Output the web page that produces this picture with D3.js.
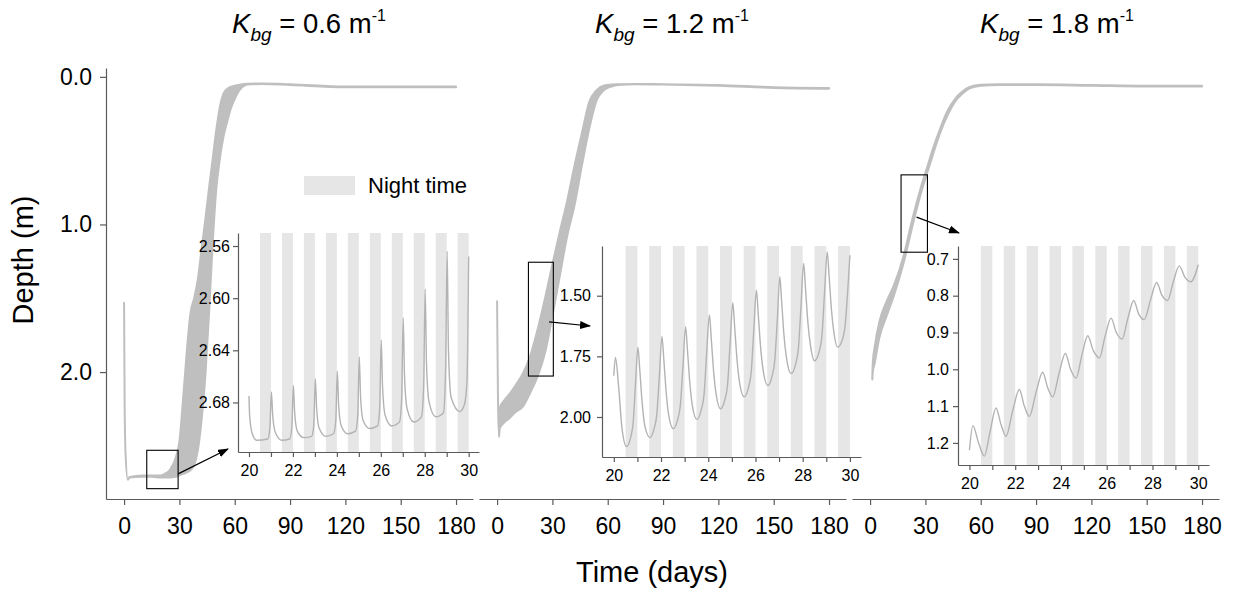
<!DOCTYPE html>
<html>
<head>
<meta charset="utf-8">
<script src="https://cdn.jsdelivr.net/npm/d3@7"></script>
<style>
body { margin: 0; background: #fff; }
text { font-family: "Liberation Sans", Arial, Helvetica, sans-serif; fill: #000; }
</style>
</head>
<body>
<svg id="chart" width="1233" height="598"></svg>
<script>
// ---------- values ----------
var kbgLabels = ["0.6", "1.2", "1.8"];
var timeTicks = [0, 30, 60, 90, 120, 150, 180];
var depthTicks = [0, 1, 2];

// main panels: shallowest / deepest depth reached around each day (band)
var mainDays1    = [0, 0.3, 0.8, 2, 3, 10, 15, 20, 22, 25, 28, 30, 32, 34, 36, 38, 40, 42, 44, 46, 48, 50, 52, 54, 56, 58, 60, 62, 64, 67, 75, 90, 120, 150, 180];
var mainShallow1 = [1.53, 2.2, 2.55, 2.73, 2.71, 2.70, 2.70, 2.70, 2.69, 2.66, 2.58, 2.47, 2.18, 1.86, 1.60, 1.50, 1.37, 1.17, 0.97, 0.76, 0.56, 0.36, 0.20, 0.11, 0.08, 0.067, 0.06, 0.055, 0.05, 0.047, 0.045, 0.05, 0.065, 0.065, 0.065];
var mainDeep1    = [1.53, 2.2, 2.55, 2.73, 2.715, 2.71, 2.71, 2.715, 2.715, 2.715, 2.71, 2.70, 2.69, 2.68, 2.665, 2.63, 2.53, 2.33, 2.04, 1.62, 1.14, 0.76, 0.55, 0.40, 0.30, 0.21, 0.15, 0.10, 0.07, 0.052, 0.048, 0.055, 0.07, 0.07, 0.07];

var mainDays2    = [0, 0.5, 1, 1.5, 4, 7, 10, 14, 18, 22, 26, 30, 34, 38, 42, 46, 50, 54, 58, 62, 66, 75, 90, 120, 150, 180];
var mainShallow2 = [1.52, 2.2, 2.44, 2.24, 2.19, 2.145, 2.09, 2.01, 1.89, 1.71, 1.50, 1.27, 1.05, 0.84, 0.60, 0.38, 0.17, 0.09, 0.058, 0.052, 0.05, 0.048, 0.05, 0.055, 0.07, 0.075];
var mainDeep2    = [1.52, 2.2, 2.44, 2.38, 2.34, 2.31, 2.27, 2.235, 2.14, 2.03, 1.87, 1.62, 1.35, 1.08, 0.87, 0.60, 0.35, 0.16, 0.09, 0.065, 0.055, 0.05, 0.052, 0.06, 0.075, 0.08];

var mainDays3    = [1.2, 1.5, 2.5, 5, 9, 13, 18, 23, 28, 31, 34, 38, 42, 46, 50, 54, 60, 70, 90, 120, 150, 180];
var mainShallow3 = [2.03, 1.93, 1.83, 1.66, 1.52, 1.41, 1.22, 0.96, 0.73, 0.61, 0.49, 0.35, 0.23, 0.15, 0.10, 0.068, 0.054, 0.05, 0.05, 0.055, 0.06, 0.06];
var mainDeep3    = [2.05, 2.0, 1.94, 1.77, 1.62, 1.48, 1.27, 1.01, 0.77, 0.65, 0.53, 0.38, 0.26, 0.17, 0.115, 0.078, 0.06, 0.055, 0.055, 0.06, 0.065, 0.065];

// zoom boxes drawn on the main panels [day from, day to], [depth from, depth to]
var boxDays   = [[12.3, 29.3], [17, 30.5], [16.8, 31.1]];
var boxDepths = [[2.53, 2.79], [1.256, 2.027], [0.664, 1.188]];
var arrowFrom = [[29.3, 2.69], [28.2, 1.66], [25.2, 0.95]];

// insets (day 20 - 30)
var nightStarts = [20.5, 21.5, 22.5, 23.5, 24.5, 25.5, 26.5, 27.5, 28.5, 29.5];
var insetDayTicks = [20, 21, 22, 23, 24, 25, 26, 27, 28, 29, 30];
var insetDepthTicks1 = [2.56, 2.60, 2.64, 2.68];
var insetDepthTicks2 = [1.50, 1.75, 2.00];
var insetDepthTicks3 = [0.7, 0.8, 0.9, 1.0, 1.1, 1.2];

var inset1 = [
  [20.0, 2.675], [20.03, 2.690], [20.15, 2.704], [20.35, 2.709], [20.85, 2.708], [20.95, 2.700],
  [21.02, 2.672], [21.08, 2.690], [21.2, 2.703], [21.5, 2.709], [21.85, 2.708], [21.95, 2.699],
  [22.02, 2.667], [22.08, 2.688], [22.2, 2.702], [22.5, 2.707], [22.85, 2.706], [22.95, 2.697],
  [23.02, 2.662], [23.08, 2.685], [23.2, 2.700], [23.5, 2.706], [23.85, 2.704], [23.95, 2.694],
  [24.02, 2.656], [24.08, 2.682], [24.2, 2.698], [24.5, 2.704], [24.85, 2.702], [24.95, 2.690],
  [25.02, 2.645], [25.08, 2.676], [25.2, 2.694], [25.5, 2.700], [25.85, 2.698], [25.95, 2.684],
  [26.02, 2.632], [26.08, 2.668], [26.2, 2.690], [26.5, 2.698], [26.85, 2.695], [26.95, 2.677],
  [27.02, 2.615], [27.08, 2.660], [27.2, 2.685], [27.5, 2.695], [27.85, 2.691], [27.95, 2.668],
  [28.02, 2.593], [28.08, 2.650], [28.2, 2.680], [28.5, 2.691], [28.85, 2.688], [28.95, 2.655],
  [29.02, 2.564], [29.08, 2.640], [29.2, 2.676], [29.6, 2.687], [29.8, 2.682], [29.92, 2.665], [30.0, 2.568]
];
var inset2 = [
  [20.0, 1.83], [20.07, 1.755], [20.2, 1.87], [20.35, 2.05], [20.54, 2.122], [20.71, 2.085], [20.82, 2.023], [20.92, 1.86],
  [21.02, 1.712], [21.1, 1.805], [21.2, 1.94], [21.31, 2.035], [21.53, 2.085], [21.7, 2.05], [21.82, 1.99], [21.93, 1.83],
  [22.04, 1.668], [22.12, 1.765], [22.22, 1.9], [22.33, 1.995], [22.52, 2.048], [22.7, 2.012], [22.82, 1.95], [22.93, 1.79],
  [23.04, 1.627], [23.12, 1.725], [23.22, 1.86], [23.33, 1.955], [23.52, 2.01], [23.7, 1.972], [23.82, 1.91], [23.93, 1.74],
  [24.05, 1.579], [24.13, 1.68], [24.23, 1.815], [24.34, 1.91], [24.52, 1.966], [24.7, 1.93], [24.82, 1.865], [24.93, 1.69],
  [25.04, 1.529], [25.12, 1.63], [25.22, 1.765], [25.33, 1.86], [25.52, 1.917], [25.7, 1.88], [25.82, 1.815], [25.93, 1.64],
  [26.04, 1.477], [26.12, 1.58], [26.22, 1.715], [26.33, 1.81], [26.52, 1.87], [26.7, 1.832], [26.82, 1.765], [26.93, 1.59],
  [27.03, 1.422], [27.11, 1.525], [27.21, 1.665], [27.32, 1.76], [27.51, 1.821], [27.7, 1.782], [27.82, 1.715], [27.93, 1.54],
  [28.04, 1.367], [28.12, 1.47], [28.22, 1.61], [28.33, 1.705], [28.5, 1.768], [28.7, 1.73], [28.82, 1.66], [28.93, 1.48],
  [29.04, 1.32], [29.12, 1.42], [29.22, 1.56], [29.32, 1.65], [29.48, 1.712], [29.65, 1.69], [29.8, 1.62], [29.92, 1.46], [30.0, 1.333]
];
var inset3 = [
  [20.0, 1.22], [20.15, 1.153], [20.4, 1.2], [20.65, 1.236], [20.9, 1.17],
  [21.16, 1.105], [21.38, 1.15], [21.6, 1.182], [21.9, 1.11],
  [22.18, 1.055], [22.4, 1.1], [22.62, 1.128], [22.92, 1.06],
  [23.2, 1.008], [23.42, 1.05], [23.64, 1.075], [23.92, 1.01],
  [24.19, 0.957], [24.42, 1.0], [24.66, 1.024], [24.92, 0.96],
  [25.17, 0.909], [25.42, 0.95], [25.68, 0.969], [25.93, 0.91],
  [26.19, 0.861], [26.42, 0.9], [26.67, 0.918], [26.93, 0.86],
  [27.18, 0.813], [27.4, 0.85], [27.64, 0.865], [27.92, 0.81],
  [28.18, 0.764], [28.42, 0.8], [28.66, 0.813], [28.92, 0.76],
  [29.17, 0.719], [29.42, 0.75], [29.68, 0.762], [30.0, 0.716]
];

// ---------- layout ----------
var svg = d3.select("#chart");
var axisColor = "#5a5a5a";
var bandColor = "#bfbfbf";
var nightColor = "#e6e6e6";

svg.append("defs").append("marker")
  .attr("id", "arrow")
  .attr("markerUnits", "userSpaceOnUse")
  .attr("markerWidth", 11).attr("markerHeight", 8)
  .attr("refX", 10).attr("refY", 4)
  .attr("orient", "auto")
  .append("path").attr("d", "M0,0 L11,4 L0,8 Z").attr("fill", "#000");

var y = d3.scaleLinear().domain([-0.06, 2.86]).range([68, 499]);

var panels = [
  { left: 106, days: mainDays1, shallow: mainShallow1, deep: mainDeep1, titleX: 309,
    inset: { left: 238, right: 479, top: 233, bottom: 452, yDom: [2.55, 2.718], ticks: insetDepthTicks1, fmt: ".2f", pad: 3, data: inset1, arrowTo: [-10, 3, "bottom"] } },
  { left: 479, days: mainDays2, shallow: mainShallow2, deep: mainDeep2, titleX: 672,
    inset: { left: 602, right: 861, top: 246, bottom: 457, yDom: [1.295, 2.165], ticks: insetDepthTicks2, fmt: ".2f", pad: 6, data: inset2, arrowTo: [-12, 80, "top"] } },
  { left: 852, days: mainDays3, shallow: mainShallow3, deep: mainDeep3, titleX: 1057,
    inset: { left: 958, right: 1209, top: 246, bottom: 465, yDom: [0.665, 1.26], ticks: insetDepthTicks3, fmt: ".1f", pad: 4, data: inset3, arrowTo: [1, -13, "top"] } }
];

function styleAxis(g, fontSize) {
  g.selectAll("path, line").attr("stroke", axisColor).attr("stroke-width", 1.2);
  g.selectAll("text").attr("font-size", fontSize).attr("fill", "#000")
    .attr("font-family", "'Liberation Sans', Arial, sans-serif");
}

panels.forEach(function(p, i) {
  var x = d3.scaleLinear().domain([-9.8, 189.2]).range([p.left, p.left + 367]);

  // main band
  var idx = d3.range(p.days.length);
  svg.append("path")
    .datum(idx)
    .attr("fill", bandColor)
    .attr("stroke", bandColor)
    .attr("stroke-width", 2)
    .attr("stroke-linejoin", "round")
    .attr("d", d3.area()
      .x(function(k) { return x(p.days[k]); })
      .y0(function(k) { return y(p.deep[k]); })
      .y1(function(k) { return y(p.shallow[k]); })
      .curve(d3.curveMonotoneX));

  // x axis
  svg.append("g")
    .attr("transform", "translate(0,499)")
    .call(d3.axisBottom(x).tickValues(timeTicks).tickSize(6).tickSizeOuter(0).tickPadding(13))
    .call(styleAxis, 23);

  // y axis only on first panel
  if (i === 0) {
    svg.append("g")
      .attr("transform", "translate(106,0)")
      .call(d3.axisLeft(y).tickValues(depthTicks).tickFormat(d3.format(".1f")).tickSize(6).tickSizeOuter(0).tickPadding(8))
      .call(styleAxis, 23);
  }

  // title
  var t = svg.append("text").attr("x", p.titleX).attr("y", 33)
    .attr("text-anchor", "middle").attr("font-size", 27.5);
  t.append("tspan").attr("font-style", "italic").text("K");
  t.append("tspan").attr("font-style", "italic").attr("font-size", 19).attr("dy", 8).text("bg");
  t.append("tspan").attr("dy", -8).text(" = " + kbgLabels[i] + " m");
  t.append("tspan").attr("font-size", 16).attr("dy", -12).text("-1");

  // zoom box
  svg.append("rect")
    .attr("x", x(boxDays[i][0])).attr("y", y(boxDepths[i][0]))
    .attr("width", x(boxDays[i][1]) - x(boxDays[i][0]))
    .attr("height", y(boxDepths[i][1]) - y(boxDepths[i][0]))
    .attr("fill", "none").attr("stroke", "#000").attr("stroke-width", 1.1);

  // inset
  var ins = p.inset;
  var xi = d3.scaleLinear().domain([19.5, 30.47]).range([ins.left, ins.right]);
  var yi = d3.scaleLinear().domain(ins.yDom).range([ins.top, ins.bottom]);

  svg.append("g").selectAll("rect")
    .data(nightStarts)
    .enter().append("rect")
    .attr("x", function(d) { return xi(d); })
    .attr("width", function(d) { return xi(d + 0.5) - xi(d); })
    .attr("y", ins.top)
    .attr("height", ins.bottom - ins.top)
    .attr("fill", nightColor);

  svg.append("path")
    .datum(ins.data)
    .attr("fill", "none")
    .attr("stroke", "#b3b3b3")
    .attr("stroke-width", 1.4)
    .attr("d", d3.line()
      .x(function(d) { return xi(d[0]); })
      .y(function(d) { return yi(d[1]); })
      .curve(d3.curveMonotoneX));

  svg.append("g")
    .attr("transform", "translate(0," + ins.bottom + ")")
    .call(d3.axisBottom(xi).tickValues(insetDayTicks)
      .tickFormat(function(d) { return d % 2 === 0 ? d : ""; })
      .tickSize(5).tickSizeOuter(0).tickPadding(8))
    .call(styleAxis, 16);

  svg.append("g")
    .attr("transform", "translate(" + ins.left + ",0)")
    .call(d3.axisLeft(yi).tickValues(ins.ticks).tickFormat(d3.format(ins.fmt))
      .tickSize(5).tickSizeOuter(0).tickPadding(ins.pad))
    .call(styleAxis, 16);

  // arrow from zoom box to inset
  var ax = ins.left + ins.arrowTo[0];
  var ay = (ins.arrowTo[2] === "bottom" ? ins.bottom - ins.arrowTo[1] : ins.top + ins.arrowTo[1]);
  svg.append("line")
    .attr("x1", x(arrowFrom[i][0])).attr("y1", y(arrowFrom[i][1]))
    .attr("x2", ax).attr("y2", ay)
    .attr("stroke", "#000").attr("stroke-width", 1.2)
    .attr("marker-end", "url(#arrow)");
});

// legend
svg.append("rect").attr("x", 304).attr("y", 176).attr("width", 51).attr("height", 19).attr("fill", nightColor);
svg.append("text").attr("x", 368).attr("y", 193).attr("font-size", 22).text("Night time");

// axis titles
svg.append("text")
  .attr("transform", "translate(33,260) rotate(-90)")
  .attr("text-anchor", "middle").attr("font-size", 29)
  .text("Depth (m)");
svg.append("text")
  .attr("x", 652).attr("y", 582)
  .attr("text-anchor", "middle").attr("font-size", 29)
  .text("Time (days)");
</script>
</body>
</html>
